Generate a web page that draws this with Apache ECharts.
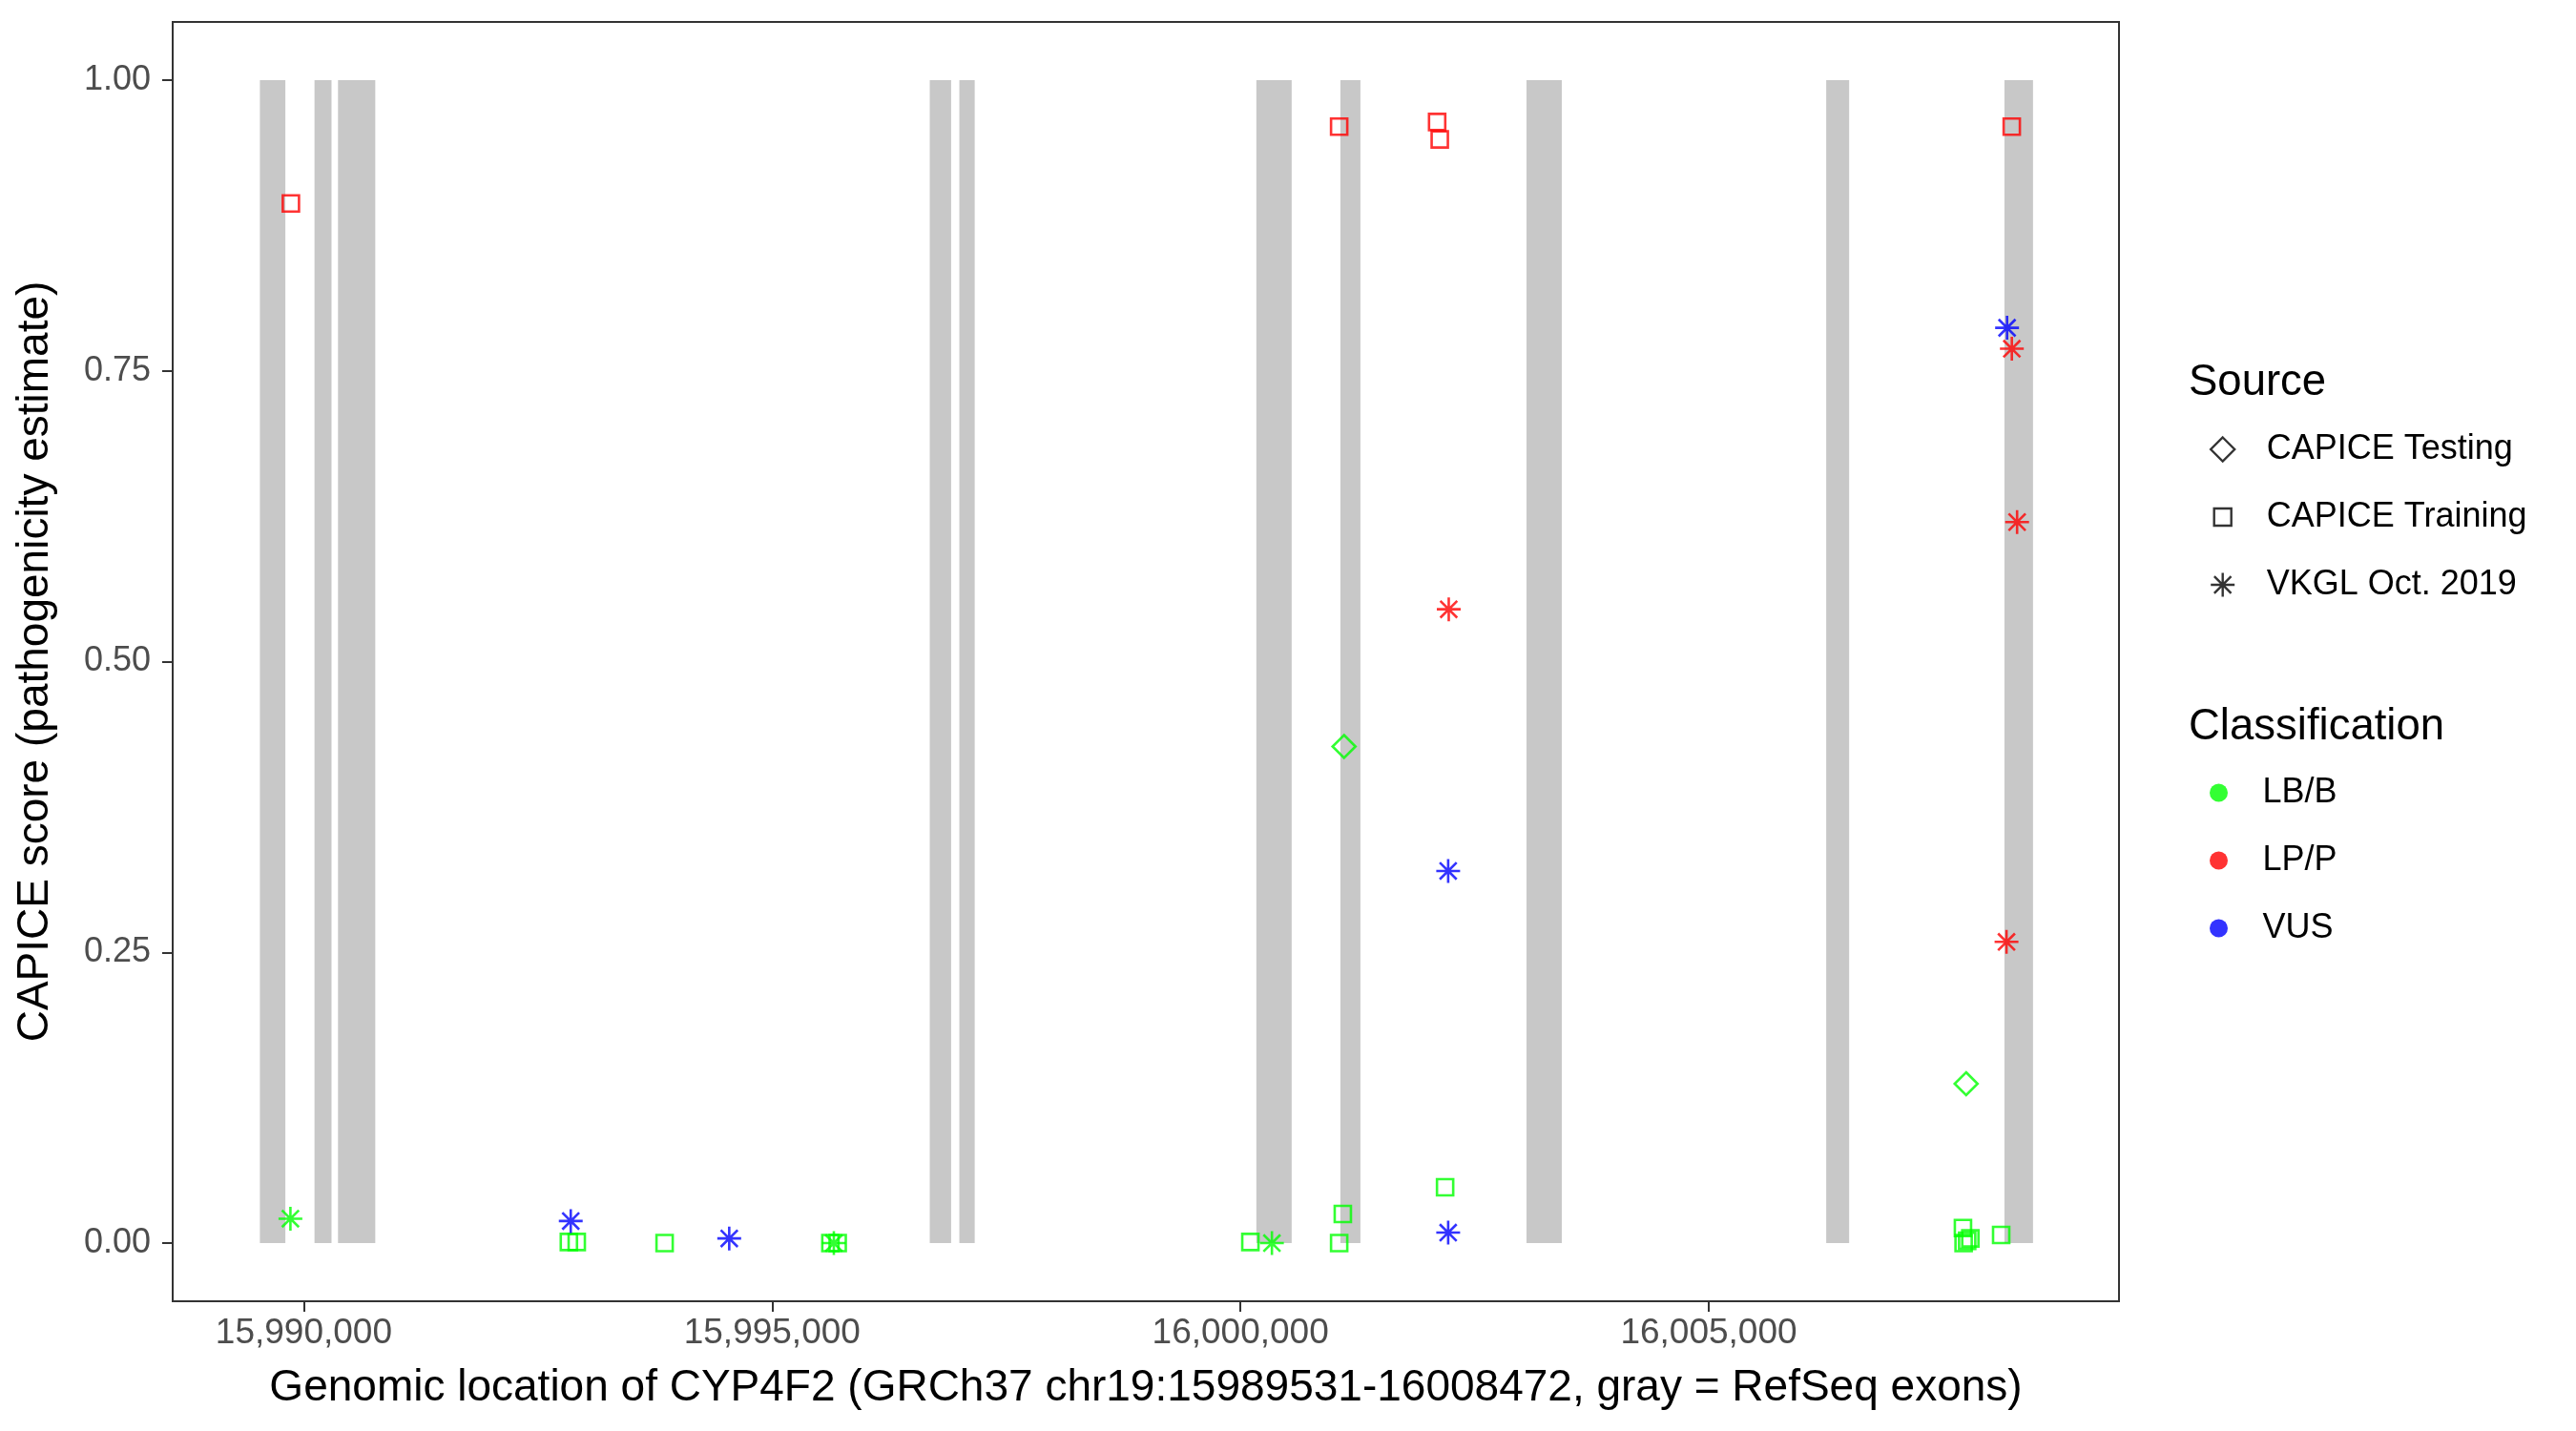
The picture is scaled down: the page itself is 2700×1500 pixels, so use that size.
<!DOCTYPE html>
<html>
<head>
<meta charset="utf-8">
<script src="https://cdn.jsdelivr.net/npm/echarts@6/dist/echarts.min.js"></script>
<style>
  html, body { margin: 0; padding: 0; background: #fff; }
  #main { width: 2700px; height: 1500px; }
</style>
</head>
<body>
<div id="main"></div>
<script>
// RefSeq exons (gray bands)
var exonStart = [15989531, 15990114, 15990365, 15996683, 15996999, 16000170, 16001067, 16003054, 16006254, 16008157];
var exonEnd   = [15989803, 15990296, 15990763, 15996911, 15997163, 16000547, 16001281, 16003431, 16006499, 16008462];

// CAPICE Testing (diamonds)
var testingPos   = [16001106, 16007748];
var testingScore = [0.427, 0.137];
var testingClass = ["LB/B", "LB/B"];

// CAPICE Training (squares)
var trainingPos   = [15989862, 16001054, 16002100, 16002128, 16008235,
                     15992830, 15992914, 15993852, 15995622, 15995700, 16000106, 16001054,
                     16001093, 16002185, 16007714, 16007721, 16007759, 16007793, 16008122];
var trainingScore = [0.894, 0.960, 0.964, 0.949, 0.960,
                     0.001, 0.001, 0.000, 0.000, 0.000, 0.001, 0.000,
                     0.025, 0.048, 0.013, 0.000, 0.002, 0.004, 0.007];
var trainingClass = ["LP/P", "LP/P", "LP/P", "LP/P", "LP/P",
                     "LB/B", "LB/B", "LB/B", "LB/B", "LB/B", "LB/B", "LB/B",
                     "LB/B", "LB/B", "LB/B", "LB/B", "LB/B", "LB/B", "LB/B"];

// VKGL Oct. 2019 (asterisks)
var vkglPos   = [15989857, 15995659, 16000336, 15992850, 15994542, 16002218, 16002218, 16008185,
                 16002224, 16008236, 16008292, 16008179];
var vkglScore = [0.021, 0.000, 0.000, 0.019, 0.004, 0.320, 0.009, 0.787,
                 0.545, 0.769, 0.620, 0.259];
var vkglClass = ["LB/B", "LB/B", "LB/B", "VUS", "VUS", "VUS", "VUS", "VUS",
                 "LP/P", "LP/P", "LP/P", "LP/P"];

var classNames  = ["LB/B", "LP/P", "VUS"];
var classColors = ["#00FF00", "#FF0000", "#0000FF"];
var sourceNames = ["CAPICE Testing", "CAPICE Training", "VKGL Oct. 2019"];

var xTicks = [15990000, 15995000, 16000000, 16005000];
var yTicks = [0, 0.25, 0.5, 0.75, 1];

var FONT = '"Liberation Sans", Arial, Helvetica, sans-serif';
var asteriskPath = "path://M0,-10L0,10M-10,0L10,0M-7.07,-7.07L7.07,7.07M-7.07,7.07L7.07,-7.07";
var diamondPath = "path://M0,-10L10,0L0,10L-10,0Z";
var squareIcon = "path://M-12.5,-12.5M12.5,12.5M-9,-9L9,-9L9,9L-9,9Z";

function colorOf(c) {
  return classColors[classNames.indexOf(c)];
}

function makePoints(pos, score, cls) {
  var out = [];
  for (var i = 0; i < pos.length; i++) {
    out.push({ value: [pos[i], score[i]], itemStyle: { borderColor: colorOf(cls[i]) } });
  }
  return out;
}

var exonData = [];
for (var i = 0; i < exonStart.length; i++) {
  exonData.push([exonStart[i], exonEnd[i]]);
}

var hollow = { color: "rgba(0,0,0,0)", borderColor: "#000", borderWidth: 2.4 };

var myChart = echarts.init(document.getElementById("main"));
var option = {
  backgroundColor: "#fff",
  animation: false,
  textStyle: { fontFamily: FONT },
  grid: {
    left: 181, right: 479, top: 23, bottom: 136,
    show: true, borderColor: "#333333", borderWidth: 2, backgroundColor: "#fff"
  },
  xAxis: {
    type: "value",
    position: "bottom",
    min: 15988600,
    max: 16009380,
    name: "Genomic location of CYP4F2 (GRCh37 chr19:15989531-16008472, gray = RefSeq exons)",
    nameLocation: "middle",
    nameGap: 68,
    nameTextStyle: { fontSize: 46, color: "#000", fontFamily: FONT },
    axisLine: { show: false, onZero: false },
    splitLine: { show: false },
    axisTick: { show: true, length: 11, customValues: xTicks, lineStyle: { color: "#333333", width: 2 } },
    axisLabel: {
      customValues: xTicks,
      margin: 15, fontSize: 37, color: "#4D4D4D", fontFamily: FONT,
      formatter: function (v) { return Number(v).toLocaleString("en-US"); }
    }
  },
  yAxis: {
    type: "value",
    position: "left",
    min: -0.05,
    max: 1.05,
    name: "CAPICE score (pathogenicity estimate)",
    nameLocation: "middle",
    nameGap: 121,
    nameTextStyle: { fontSize: 46, color: "#000", fontFamily: FONT },
    axisLine: { show: false, onZero: false },
    splitLine: { show: false },
    axisTick: { show: true, length: 11, customValues: yTicks, lineStyle: { color: "#333333", width: 2 } },
    axisLabel: {
      customValues: yTicks,
      margin: 23, fontSize: 36, color: "#4D4D4D", fontFamily: FONT,
      formatter: function (v) { return Number(v).toFixed(2); }
    }
  },
  legend: [
    {
      orient: "vertical", left: 2311, top: 448,
      itemWidth: 82, itemHeight: 25, itemGap: 35,
      selectedMode: false,
      textStyle: { fontSize: 36, color: "#000", fontFamily: FONT },
      data: [
        { name: sourceNames[0], icon: diamondPath, itemStyle: hollow },
        { name: sourceNames[1], icon: squareIcon, itemStyle: hollow },
        { name: sourceNames[2], icon: asteriskPath, itemStyle: hollow }
      ]
    },
    {
      orient: "vertical", left: 2311, top: 808,
      itemWidth: 82, itemHeight: 19, itemGap: 35,
      selectedMode: false,
      textStyle: { fontSize: 36, color: "#000", fontFamily: FONT },
      data: [
        { name: classNames[0], icon: "circle", itemStyle: { color: classColors[0], borderWidth: 0 } },
        { name: classNames[1], icon: "circle", itemStyle: { color: classColors[1], borderWidth: 0 } },
        { name: classNames[2], icon: "circle", itemStyle: { color: classColors[2], borderWidth: 0 } }
      ]
    }
  ],
  graphic: [
    { type: "text", x: 2294, y: 401, style: { text: "Source", fontSize: 45.5, fontFamily: FONT, fill: "#000", verticalAlign: "middle" } },
    { type: "text", x: 2294, y: 762, style: { text: "Classification", fontSize: 45.5, fontFamily: FONT, fill: "#000", verticalAlign: "middle" } }
  ],
  series: [
    {
      name: "exons",
      type: "custom",
      silent: true,
      z: 1,
      encode: { x: [0, 1] },
      data: exonData,
      renderItem: function (params, api) {
        var p0 = api.coord([api.value(0), 1]);
        var p1 = api.coord([api.value(1), 0]);
        return {
          type: "rect",
          shape: { x: p0[0], y: p0[1], width: p1[0] - p0[0], height: p1[1] - p0[1] },
          style: { fill: "#C8C8C8" }
        };
      }
    },
    {
      name: sourceNames[0], type: "scatter", z: 3,
      symbol: diamondPath, symbolSize: 24,
      itemStyle: { color: "rgba(0,0,0,0)", borderColor: "#000", borderWidth: 2.6 },
      data: makePoints(testingPos, testingScore, testingClass)
    },
    {
      name: sourceNames[1], type: "scatter", z: 3,
      symbol: "rect", symbolSize: 17,
      itemStyle: { color: "rgba(0,0,0,0)", borderColor: "#000", borderWidth: 2.6 },
      data: makePoints(trainingPos, trainingScore, trainingClass)
    },
    {
      name: sourceNames[2], type: "scatter", z: 3,
      symbol: asteriskPath, symbolSize: 25,
      itemStyle: { color: "rgba(0,0,0,0)", borderColor: "#000", borderWidth: 2.6 },
      data: makePoints(vkglPos, vkglScore, vkglClass)
    },
    { name: classNames[0], type: "scatter", data: [], itemStyle: { color: classColors[0] } },
    { name: classNames[1], type: "scatter", data: [], itemStyle: { color: classColors[1] } },
    { name: classNames[2], type: "scatter", data: [], itemStyle: { color: classColors[2] } }
  ]
};
option && myChart.setOption(option);
</script>
</body>
</html>
